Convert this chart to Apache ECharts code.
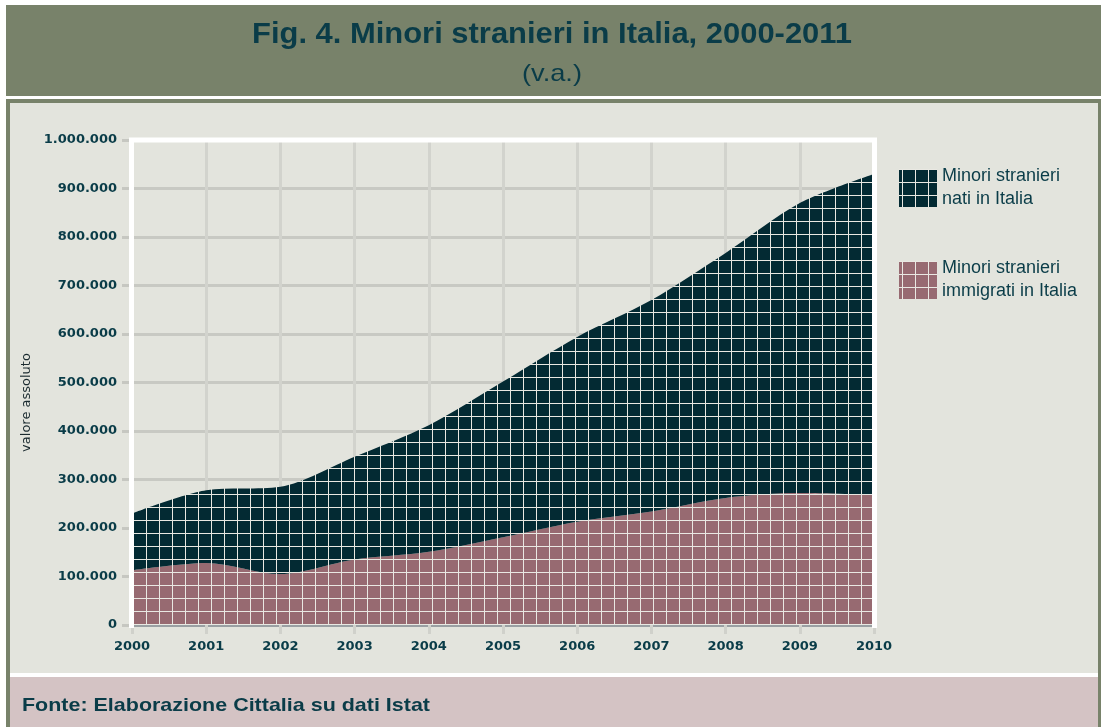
<!DOCTYPE html>
<html>
<head>
<meta charset="utf-8">
<title>Minori stranieri in Italia</title>
<script src="https://cdn.jsdelivr.net/npm/echarts@6/dist/echarts.min.js"></script>
<style>
  html, body { margin: 0; padding: 0; background: #fff; }
  #chart { width: 1104px; height: 727px; }
</style>
</head>
<body>
<div id="chart"></div>
<script>
// dati (valori assoluti)
var anni = ['2000', '2001', '2002', '2003', '2004', '2005', '2006', '2007', '2008', '2009', '2010'];
var immigrati = [113000, 128000, 105000, 135000, 151000, 181000, 213000, 234000, 262000, 272000, 268000];
var nati = [117000, 150000, 180000, 212000, 261000, 321000, 381000, 436000, 505000, 598000, 662000];

var nomeNati = 'Minori stranieri\nnati in Italia';
var nomeImmigrati = 'Minori stranieri\nimmigrati in Italia';

var testoBlu = '#0a3c48';

// riempimento a tessere (quadretti 13px con righe chiare)
function tessere(fondo) {
    var c = document.createElement('canvas');
    c.width = 13;
    c.height = 13;
    var ctx = c.getContext('2d');
    ctx.fillStyle = fondo;
    ctx.fillRect(0, 0, 13, 13);
    ctx.fillStyle = '#e9e8e2';
    ctx.fillRect(0, 0, 13, 1);
    ctx.fillRect(3, 0, 1, 13);
    return { image: c, repeat: 'repeat' };
}
var patNati = tessere('#032a33');
var patImmigrati = tessere('#976a71');

// per stringere i testi "condensed" alla larghezza voluta
var misuraCtx = document.createElement('canvas').getContext('2d');
function scala(testo, font, larghezza) {
    misuraCtx.font = font;
    return larghezza / misuraCtx.measureText(testo).width;
}

function migliaia(v) {
    return String(v).replace(/\B(?=(\d{3})+(?!\d))/g, '.');
}

var fontTitolo = 'bold 29px "Liberation Sans"';
var fontSotto = '24px "Liberation Sans"';
var fontFonte = 'bold 19px "Liberation Sans"';
var titolo = 'Fig. 4. Minori stranieri in Italia, 2000-2011';
var sottotitolo = '(v.a.)';
var fonte = 'Fonte: Elaborazione Cittalia su dati Istat';

var myChart = echarts.init(document.getElementById('chart'));

var option = {
    animation: false,
    backgroundColor: '#ffffff',
    textStyle: { fontFamily: 'DejaVu Sans' },
    graphic: [
        // cornice e fondi
        { type: 'rect', z: -10, shape: { x: 6, y: 5, width: 1095, height: 91 }, style: { fill: '#78826a' } },
        { type: 'rect', z: -10, shape: { x: 6, y: 99, width: 1095, height: 628 }, style: { fill: '#78826a' } },
        { type: 'rect', z: -10, shape: { x: 10, y: 103, width: 1088, height: 570 }, style: { fill: '#e3e4dd' } },
        { type: 'rect', z: -10, shape: { x: 10, y: 673, width: 1088, height: 4 }, style: { fill: '#ffffff' } },
        { type: 'rect', z: -10, shape: { x: 10, y: 677, width: 1088, height: 50 }, style: { fill: '#d4c3c4' } },
        {
            type: 'text', z: 10, x: 552, y: 35,
            scaleX: scala(titolo, fontTitolo, 600),
            style: { text: titolo, font: fontTitolo, fill: testoBlu, align: 'center', verticalAlign: 'middle', textAlign: 'center', textVerticalAlign: 'middle' }
        },
        {
            type: 'text', z: 10, x: 552, y: 74,
            scaleX: scala(sottotitolo, fontSotto, 60),
            style: { text: sottotitolo, font: fontSotto, fill: testoBlu, align: 'center', verticalAlign: 'middle', textAlign: 'center', textVerticalAlign: 'middle' }
        },
        {
            type: 'text', z: 10, x: 22, y: 706,
            scaleX: scala(fonte, fontFonte, 408),
            style: { text: fonte, font: fontFonte, fill: testoBlu, align: 'left', verticalAlign: 'middle', textAlign: 'left', textVerticalAlign: 'middle' }
        },
        // bordo bianco dell'area del grafico
        {
            type: 'polyline', z: 5, silent: true,
            shape: { points: [[131.5, 628], [131.5, 140], [874.5, 140], [874.5, 628]] },
            style: { stroke: '#ffffff', lineWidth: 5, fill: null }
        }
    ],
    legend: {
        orient: 'vertical',
        left: 899,
        top: 165,
        padding: 0,
        itemWidth: 38,
        itemHeight: 38,
        itemGap: 46,
        icon: 'rect',
        selectedMode: false,
        itemStyle: { borderWidth: 0 },
        textStyle: { color: testoBlu, fontSize: 18, fontFamily: 'Liberation Sans', lineHeight: 23 },
        data: [
            { name: nomeNati, itemStyle: { color: patNati } },
            { name: nomeImmigrati, itemStyle: { color: patImmigrati } }
        ]
    },
    grid: {
        left: 132,
        right: 230,
        top: 140,
        bottom: 102
    },
    xAxis: {
        type: 'category',
        data: anni,
        boundaryGap: false,
        axisLine: { lineStyle: { color: '#9aa0a3', width: 3 } },
        axisTick: { show: true, length: 9, lineStyle: { color: '#d0d1cb', width: 3 } },
        axisLabel: { margin: 15, color: testoBlu, fontSize: 13, fontWeight: 'bold', fontFamily: 'DejaVu Sans' },
        splitLine: { show: true, lineStyle: { color: '#d2d3cd', width: 3 } }
    },
    yAxis: {
        type: 'value',
        min: 0,
        max: 1000000,
        interval: 100000,
        name: 'valore assoluto',
        nameLocation: 'middle',
        nameRotate: 90,
        nameGap: 91,
        nameTextStyle: { color: '#1b2b30', fontSize: 13, fontFamily: 'DejaVu Sans', padding: [0, 40, 0, 0] },
        axisLine: { show: false },
        axisTick: { show: true, length: 10, lineStyle: { color: '#c6c7c1', width: 3 } },
        axisLabel: {
            margin: 15,
            color: testoBlu,
            fontSize: 13,
            fontWeight: 'bold',
            fontFamily: 'DejaVu Sans',
            formatter: function (v) { return migliaia(v); }
        },
        splitLine: { show: true, lineStyle: { color: '#c8c9c3', width: 3 } }
    },
    series: [{
        name: nomeImmigrati,
        type: 'line',
        stack: 'totale',
        smooth: 0.3,
        symbol: 'none',
        silent: true,
        lineStyle: { width: 0 },
        itemStyle: { color: '#976a71' },
        areaStyle: { color: patImmigrati, opacity: 1 },
        emphasis: { disabled: true },
        data: immigrati
    }, {
        name: nomeNati,
        type: 'line',
        stack: 'totale',
        smooth: 0.3,
        symbol: 'none',
        silent: true,
        lineStyle: { width: 0 },
        itemStyle: { color: '#032a33' },
        areaStyle: { color: patNati, opacity: 1 },
        emphasis: { disabled: true },
        data: nati
    }]
};

myChart.setOption(option);
window.addEventListener('resize', function () {
    myChart.resize();
});
</script>
</body>
</html>
